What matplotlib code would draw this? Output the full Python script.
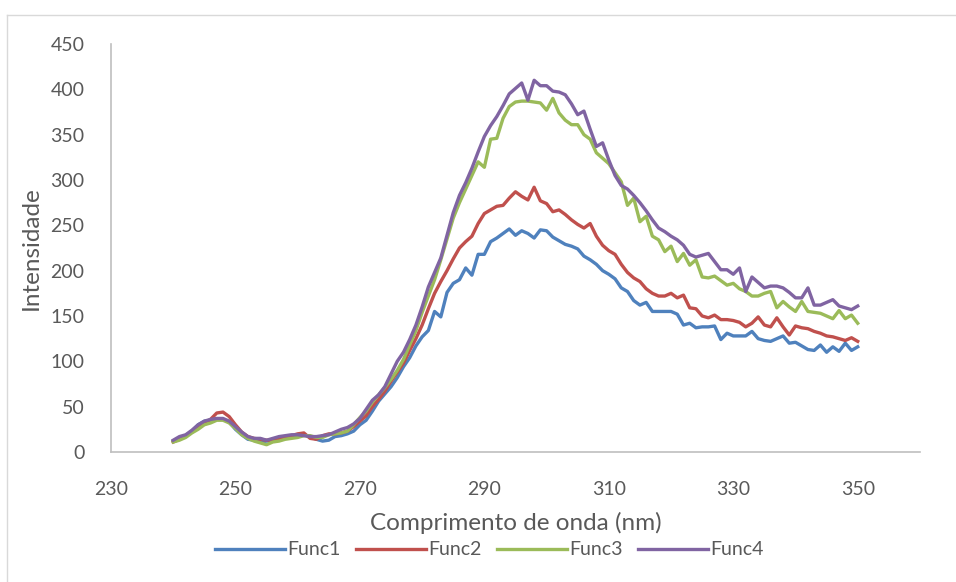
import numpy as np
import matplotlib.pyplot as plt
from matplotlib.lines import Line2D

plt.rcParams['font.family'] = ['Lato', 'DejaVu Sans']

# wavelength, 240..350 nm, 1 nm step
wavelength = np.arange(240, 351)

func1 = [
    12, 15, 18, 23, 30, 34, 35, 36, 36, 33,
    25, 19, 14, 13, 11, 12, 12, 14, 15, 17,
    19, 19, 17, 14, 12, 13, 17, 18, 20, 23,
    30, 35, 45, 56, 64, 72, 82, 94, 104, 117,
    127, 134, 155, 149, 176, 186, 190, 203, 195, 218,
    218, 232, 236, 241, 246, 239, 244, 241, 236, 245,
    244, 237, 233, 229, 227, 224, 216, 212, 207, 200,
    196, 191, 181, 177, 167, 162, 165, 155, 155, 155,
    155, 152, 140, 142, 137, 138, 138, 139, 124, 131,
    128, 128, 128, 133, 125, 123, 122, 125, 128, 120,
    121, 117, 113, 112, 118, 110, 116, 111, 120, 112, 116,
]
func2 = [
    11, 14, 18, 22, 27, 31, 36, 43, 44, 39,
    30, 22, 17, 15, 14, 13, 13, 15, 16, 18,
    20, 21, 15, 14, 18, 20, 20, 21, 23, 28,
    34, 40, 50, 58, 67, 78, 88, 98, 112, 125,
    140, 158, 175, 188, 200, 213, 225, 232, 238, 252,
    263, 267, 271, 272, 280, 287, 282, 278, 292, 277,
    274, 265, 267, 262, 256, 251, 247, 252, 238, 228,
    222, 218, 207, 198, 192, 188, 180, 175, 172, 172,
    175, 170, 173, 159, 158, 150, 148, 151, 146, 146,
    145, 143, 138, 142, 149, 140, 138, 148, 138, 129,
    139, 137, 136, 133, 131, 128, 127, 125, 123, 126, 122,
]
func3 = [
    11, 13, 16, 21, 25, 30, 32, 35, 35, 32,
    26, 19, 15, 12, 10, 8, 11, 12, 14, 15,
    16, 18, 18, 16, 16, 19, 20, 21, 23, 30,
    38, 45, 55, 63, 71, 80, 90, 102, 118, 134,
    154, 172, 190, 212, 235, 258, 275, 290, 305, 320,
    314, 345, 346, 368, 381, 386, 387, 387, 386, 385,
    377, 390, 374, 366, 361, 361, 350, 345, 330, 324,
    318, 308, 298, 272, 280, 254, 260, 238, 234, 221,
    227, 210, 219, 206, 212, 193, 192, 194, 189, 184,
    186, 180, 177, 172, 172, 175, 177, 159, 166, 160,
    155, 166, 155, 154, 153, 150, 147, 156, 147, 151, 142,
]
func4 = [
    13, 17, 19, 24, 30, 34, 36, 37, 37, 34,
    28, 22, 17, 15, 15, 13, 15, 17, 18, 19,
    19, 18, 17, 17, 18, 19, 22, 25, 27, 31,
    37, 47, 57, 63, 72, 86, 100, 110, 124, 140,
    160, 182, 198, 214, 239, 264, 283, 297, 313, 331,
    348, 360, 370, 382, 395, 401, 407, 388, 410, 404,
    404, 398, 397, 394, 384, 372, 376, 356, 337, 341,
    322, 305, 294, 290, 283, 275, 266, 256, 247, 243,
    238, 234, 228, 218, 215, 217, 219, 210, 201, 201,
    196, 203, 177, 193, 187, 181, 183, 183, 181, 176,
    170, 170, 181, 162, 162, 165, 168, 161, 159, 157, 161,
]

labels = ["Func1", "Func2", "Func3", "Func4"]
colors = ["#4F81BD", "#C0504D", "#9BBB59", "#8064A2"]

fig = plt.figure(figsize=(9.56, 5.82), dpi=100)
ax = fig.add_axes([0.1161, 0.2234, 0.8462, 0.7010])

for y, lab, c in zip([func1, func2, func3, func4], labels, colors):
    ax.plot(wavelength, y, color=c, lw=2.4, label=lab, solid_joinstyle="round")

ax.set_xlim(230, 360)
ax.set_ylim(0, 450)
ax.set_xticks(np.arange(230, 351, 20))
ax.set_yticks(np.arange(0, 451, 50))

for s in ["top", "right"]:
    ax.spines[s].set_visible(False)
for s in ["left", "bottom"]:
    ax.spines[s].set_color("#BFBFBF")
    ax.spines[s].set_linewidth(1.2)

ax.tick_params(length=0, labelsize=14, labelcolor="#595959")
ax.tick_params(axis="x", pad=21)
ax.tick_params(axis="y", pad=19)

ax.set_xlabel("Comprimento de onda (nm)", fontsize=17.5, color="#595959", labelpad=10)
ax.set_ylabel("Intensidade", fontsize=17.5, color="#595959", labelpad=6)

fig.legend(loc="center", bbox_to_anchor=(0.512, 0.055), ncol=4, frameon=False,
           fontsize=14, labelcolor="#595959", handlelength=3.6,
           handletextpad=0.1, columnspacing=0.8)

# chart area border
fig.add_artist(Line2D([7 / 956, 7 / 956], [0, 1 - 15 / 582], color="#D9D9D9", lw=1))
fig.add_artist(Line2D([7 / 956, 1], [1 - 15 / 582, 1 - 15 / 582], color="#D9D9D9", lw=1))

fig.savefig("out.png", dpi=100)
